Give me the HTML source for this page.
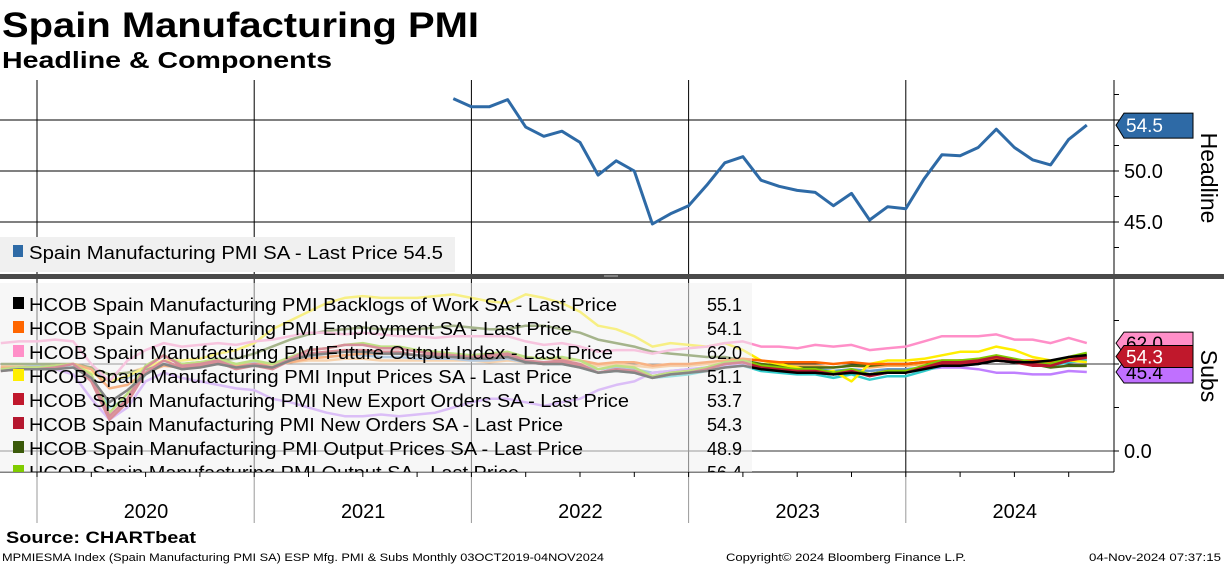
<!DOCTYPE html>
<html><head><meta charset="utf-8"><style>
body{margin:0;background:#fff;width:1224px;height:566px;overflow:hidden;font-family:"Liberation Sans",sans-serif}
svg{display:block}
</style></head><body>
<svg id="c" width="1224" height="566" xmlns="http://www.w3.org/2000/svg">
<defs><clipPath id="legclip"><rect x="0" y="283" width="760" height="189"/></clipPath></defs>
<text x="2" y="37" font-size="35" font-weight="bold" textLength="477" lengthAdjust="spacingAndGlyphs">Spain Manufacturing PMI</text>
<text x="2" y="68" font-size="23" font-weight="bold" textLength="330" lengthAdjust="spacingAndGlyphs">Headline &amp; Components</text>
<g id="grid"></g>
<g id="gtop"></g>
<g id="gbot"></g>
<text x="6" y="543" font-size="17" font-weight="bold" textLength="190" lengthAdjust="spacingAndGlyphs">Source: CHARTbeat</text>
<text x="2" y="561" font-size="11" textLength="602" lengthAdjust="spacingAndGlyphs">MPMIESMA Index (Spain Manufacturing PMI SA) ESP Mfg. PMI &amp; Subs  Monthly 03OCT2019-04NOV2024</text>
<text x="726" y="561" font-size="11" textLength="240" lengthAdjust="spacingAndGlyphs">Copyright© 2024 Bloomberg Finance L.P.</text>
<text x="1221" y="561" font-size="11" text-anchor="end" textLength="132" lengthAdjust="spacingAndGlyphs">04-Nov-2024 07:37:15</text>
</svg>
<script>
const years=["2020","2021","2022","2023","2024"];
const headline=[57.1,56.3,56.3,57.0,54.3,53.4,53.9,52.8,49.6,51.0,50.0,44.8,45.8,46.6,48.6,50.8,51.4,49.1,48.5,48.1,47.9,46.6,47.8,45.2,46.5,46.3,49.2,51.6,51.5,52.3,54.1,52.3,51.1,50.6,53.1,54.5];
const sOutput=[47,48,48,49,50,44,22,33,49,55,50,51,53,50,52,50,54,58,59,61,62,60,60,58,57,56,55,56,57,54,53,54,52,47,49,48,43,45,46,48,51,52,49,48,47,47,45,47,44,46,46,49,52,52,53,55,53,51,50,54,56.4];
const sNewOrders=[46,47,47,48,50,42,20,30,48,55,49,50,52,48,50,48,53,58,59,61,61,59,59,57,56,55,54,55,56,52,51,52,50,45,47,46,42,44,45,47,50,51,48,47,46,46,44,46,43,45,45,48,51,51,52,54,52,50,49,52,54.3];
const sExport=[47,48,48,49,50,40,18,28,45,52,48,49,51,47,49,47,52,56,57,58,58,57,57,55,55,54,53,54,55,51,50,51,49,45,47,46,43,45,46,48,50,51,48,47,46,45,44,46,44,46,46,48,50,50,51,52,51,49,49,52,53.7];
const sEmploy=[48,48,48,49,50,47,36,38,45,49,48,49,50,49,50,50,51,53,54,55,56,56,56,55,55,55,55,55,56,54,53,53,52,50,51,51,49,50,50,51,52,53,52,51,51,51,50,51,50,50,50,51,52,52,52,53,52,52,51,53,54.1];
const sBacklog=[46,47,47,47,48,42,28,35,44,50,47,48,50,48,49,48,52,55,56,57,57,56,56,55,54,54,53,53,54,51,50,50,48,45,46,45,42,44,45,46,48,49,47,46,45,45,44,45,44,45,45,47,49,49,50,52,51,51,52,54,55.1];
const sFuture=[62,63,63,64,63,50,40,52,58,62,60,61,62,61,63,64,66,68,68,67,68,67,66,66,65,66,66,66,66,63,61,62,60,57,58,58,56,58,59,60,62,63,60,60,59,61,60,61,58,59,60,63,66,66,66,67,64,64,62,65,62.0];
const sInput=[48,48,48,49,50,45,40,43,48,52,52,53,56,58,62,70,75,80,85,88,89,88,88,88,89,90,88,86,85,90,88,85,80,72,70,66,60,62,61,60,62,58,52,50,48,45,46,40,50,52,52,53,55,57,57,60,58,54,52,52,51.1];
const sOutPrice=[50,50,50,50,50,48,44,45,47,49,50,51,52,53,56,60,64,67,69,70,71,70,70,70,71,72,71,70,70,72,72,70,68,64,62,60,57,56,55,54,54,52,50,49,48,48,48,49,49,50,50,51,51,52,52,53,52,50,48,49,48.9];
const sStocks=[47,47,47,48,48,42,25,30,44,50,48,49,50,48,50,48,52,55,56,57,57,56,56,55,55,56,54,54,55,52,50,50,48,45,46,45,42,43,44,46,48,49,46,45,44,44,42,44,41,43,43,46,49,49,50,53,51,50,49,51,52];
const sDelivery=[48,48,48,47,44,30,18,25,40,45,42,40,38,36,35,30,28,25,22,20,20,21,20,21,22,25,28,30,30,28,26,28,30,35,38,40,45,46,47,48,49,50,48,46,46,45,45,46,44,45,45,47,48,48,47,45,45,44,44,46,45.4];
const sLightBlue=[48,48,49,49,50,47,40,42,47,50,49,50,51,50,51,50,52,54,54,55,55,54,54,53,53,53,52,52,53,51,50,50,49,47,48,47,45,46,47,48,49,50,48,47,47,47,46,47,46,47,47,48,50,50,51,52,51,50,50,52,52];
const sLightOrange=[49,49,49,49,50,48,44,45,48,50,49,50,50,49,50,49,51,52,52,53,53,52,52,52,52,52,52,51,52,51,51,51,50,49,50,49,48,49,49,50,50,51,50,49,49,49,48,49,48,49,49,50,51,51,51,52,51,51,51,52,52];
const legendNames=["HCOB Spain Manufacturing PMI Backlogs of Work SA - Last Price","HCOB Spain Manufacturing PMI Employment SA - Last Price","HCOB Spain Manufacturing PMI Future Output Index - Last Price","HCOB Spain Manufacturing PMI Input Prices SA - Last Price","HCOB Spain Manufacturing PMI New Export Orders SA - Last Price","HCOB Spain Manufacturing PMI New Orders SA - Last Price","HCOB Spain Manufacturing PMI Output Prices SA - Last Price","HCOB Spain Manufacturing PMI Output SA - Last Price"];
const legendVals=["55.1","54.1","62.0","51.1","53.7","54.3","48.9","56.4"];
const legendColors=["#000","#ff6600","#ff8fc8","#ffee00","#c0182c","#b5172f","#3b5a0a","#80cc00"];
const legendWidths=[588,543,584,543,600,534,554,490];

const NS="http://www.w3.org/2000/svg";
function mk(tag,attrs,parent){const e=document.createElementNS(NS,tag);for(const k in attrs)e.setAttribute(k,attrs[k]);parent.appendChild(e);return e;}
const TOTAL=62;
function xm(i){return 37+(i-3)*18.1;}
function yTop(v){return 171-(v-50)*10.2;}
function yBot(v){return 451-v*1.74;}
const gGrid=document.getElementById('grid'),gTop=document.getElementById('gtop'),gBot=document.getElementById('gbot');

for(let k=0;k<=4;k++){const x=xm(3+12*k);
 const l=mk('line',{x1:x,x2:x,y1:80,y2:472,stroke:'#000','stroke-width':1},gGrid);
 
 
 const l2=mk('line',{x1:x,x2:x,y1:472,y2:523,stroke:'#999','stroke-width':1},gGrid);
 
 
 const t=mk('text',{x:x+109,y:518,'font-size':20,'text-anchor':'middle'},gGrid);t.textContent=years[k];
 
 }
for(let i=0;i<TOTAL;i+=3){const x=xm(i);if(x<0)continue;mk('line',{x1:x,x2:x,y1:472,y2:477,stroke:'#000'},gGrid);}
mk('line',{x1:0,x2:1114,y1:472,y2:472,stroke:'#000'},gGrid);
[55,50,45].forEach(v=>{const l=mk('line',{x1:0,x2:1114,y1:yTop(v),y2:yTop(v),stroke:'#000'},gGrid);
 
 });
[0,50].forEach(v=>{mk('line',{x1:0,x2:1114,y1:yBot(v),y2:yBot(v),stroke:'#333'},gGrid);});
mk('line',{x1:1114,x2:1114,y1:80,y2:472,stroke:'#000'},gGrid);
for(let v=42.5;v<=57.5;v+=2.5)mk('line',{x1:1114,x2:1119,y1:yTop(v),y2:yTop(v),stroke:'#000'},gGrid);
for(let v=0;v<=75;v+=25)mk('line',{x1:1114,x2:1119,y1:yBot(v),y2:yBot(v),stroke:'#000'},gGrid);
[["50.0",50],["45.0",45]].forEach(a=>{const t=mk('text',{x:1124,y:yTop(a[1])+7,'font-size':20},gGrid);t.textContent=a[0];
 
 });
{const t=mk('text',{x:1124,y:yBot(0)+7,'font-size':20},gGrid);t.textContent="0.0";
 
 }
{const t=mk('text',{x:0,y:0,'font-size':23,transform:'translate(1201,178) rotate(90)','text-anchor':'middle'},gGrid);t.textContent="Headline";
 
 }
{const t=mk('text',{x:0,y:0,'font-size':23,transform:'translate(1201,376) rotate(90)','text-anchor':'middle'},gGrid);t.textContent="Subs";
 
 }

{const r=mk('rect',{x:0,y:237,width:455,height:35,fill:'#f0f0f0'},gTop);
 
 
 mk('rect',{x:13,y:245,width:10,height:12,fill:'#2e6aa6'},gTop);
 const t=mk('text',{x:29,y:259,'font-size':18,textLength:414,lengthAdjust:'spacingAndGlyphs'},gTop);t.textContent="Spain Manufacturing PMI SA - Last Price 54.5";
 
 }
function path(arr,yf,off){return arr.map((v,i)=>(i?'L':'M')+xm(i+off).toFixed(1)+','+yf(v).toFixed(1)).join(' ');}
{const p=mk('path',{d:path(headline,yTop,TOTAL-headline.length),fill:'none',stroke:'#2e6aa6','stroke-width':3,'stroke-linejoin':'round'},gTop);
 
 }
{const y=yTop(headline[headline.length-1]);
 const g=mk('polygon',{points:`1116,${y} 1124,${y-12} 1193,${y-12} 1193,${y+13} 1124,${y+13}`,fill:'#2e6aa6',stroke:'#000'},gTop);
 
 
 const t=mk('text',{x:1126,y:y+7,'font-size':19,fill:'#fff'},gTop);t.textContent=headline[headline.length-1].toFixed(1);}

{const s=mk('rect',{x:0,y:274,width:1224,height:5,fill:'#4a4a4a'},gGrid);
 
 }
mk('line',{x1:604,x2:618,y1:276,y2:276,stroke:'#bbb'},gGrid);

const series=[[sLightOrange,'#ffb060'],[sLightBlue,'#6699cc'],[sDelivery,'#c080ff'],[sStocks,'#33cccc'],[sOutPrice,'#4a6b10'],[sInput,'#ffee00'],[sFuture,'#ff8fc8'],[sEmploy,'#ff6600'],[sExport,'#c0182c'],[sOutput,'#80cc00'],[sNewOrders,'#b5172f'],[sBacklog,'#000']];
series.forEach(s=>{const p=mk('path',{d:path(s[0],yBot,TOTAL-s[0].length),fill:'none',stroke:s[1],'stroke-width':2.5,'stroke-linejoin':'round'},gBot);
 
 });
{const r=mk('rect',{x:0,y:283,width:752,height:189,fill:'#f0f0f0','fill-opacity':0.55},gBot);
 
 }
const clipG=mk('g',{'clip-path':'url(#legclip)'},gBot);
legendNames.forEach((n,i)=>{const y=305+i*24;
 mk('rect',{x:13,y:y-8,width:11,height:12,fill:legendColors[i]},clipG);
 const t=mk('text',{x:29,y:y+6,'font-size':18,textLength:legendWidths[i],lengthAdjust:'spacingAndGlyphs'},clipG);t.textContent=n;
 
 
 const v=mk('text',{x:742,y:y+6,'font-size':18,'text-anchor':'end'},clipG);v.textContent=legendVals[i];
 
 });
function tag(v,col,txtCol,txt){const y=yBot(v);
 const g=mk('polygon',{points:`1116,${y} 1124,${y-11} 1193,${y-11} 1193,${y+11} 1124,${y+11}`,fill:col,stroke:'#000'},gBot);
 
 
 const t=mk('text',{x:1126,y:y+7,'font-size':19,fill:txtCol},gBot);t.textContent=txt;}
tag(62.0,'#ff8fc8','#000','62.0');
tag(45.4,'#c070ff','#000','45.4');
mk('line',{x1:1124,x2:1193,y1:yBot(56.4)+2,y2:yBot(56.4)+2,stroke:'#80cc00','stroke-width':3},gBot);
tag(54.3,'#c0182c','#fff','54.3');
</script>
</body></html>
